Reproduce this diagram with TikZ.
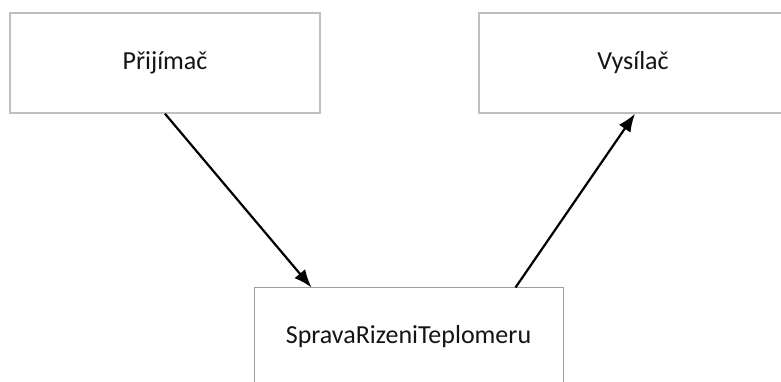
\documentclass[tikz,border=0pt]{standalone}
\usepackage{fontspec}
\setmainfont{Carlito}
\usetikzlibrary{arrows.meta,calc}
\begin{document}
\begin{tikzpicture}[x=1pt,y=1pt,
  topbox/.style={draw=black!25,line width=1.5pt,fill=white,minimum width=#1,minimum height=100pt,inner sep=0pt,font=\fontsize{26}{31}\selectfont,text=black!92},
  botbox/.style={draw=black!38,line width=1pt,fill=white,minimum width=309pt,minimum height=98pt,inner sep=0pt,font=\fontsize{26}{31}\selectfont,text=black!92},
  conn/.style={line width=2.2pt,-{Latex[length=18pt,width=14pt]}}]
\useasboundingbox (0,0) rectangle (781,382);
\clip (0,0) rectangle (781,382);
\fill[white] (0,0) rectangle (781,382);
\node[topbox=310pt] (prij) at (165,319) {Přijímač};
\node[topbox=308pt] (vys) at (633,319) {Vysílač};
\node[botbox] (sprava) at (408.5,45) {SpravaRizeniTeplomeru};
\coordinate (in1) at ($(sprava.north west)+(58,0)$);
\coordinate (out2) at ($(sprava.north east)+(-48,0)$);
\draw[conn] (prij.south) -- (in1);
\draw[conn] (out2) -- ($(vys.south)+(2,0)$);
\end{tikzpicture}
\end{document}
